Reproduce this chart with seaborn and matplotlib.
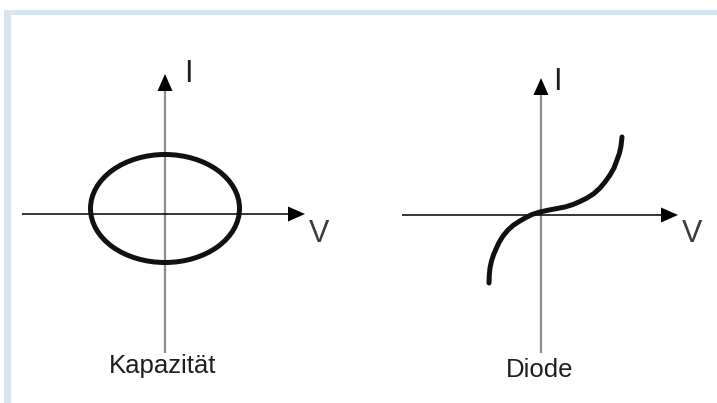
import matplotlib
matplotlib.use("Agg")
import matplotlib.pyplot as plt
from matplotlib.patches import Ellipse, Rectangle
import seaborn as sns
import pandas as pd

sns.set_theme(style="white")
plt.rcParams['font.family'] = ['Liberation Sans', 'DejaVu Sans']

# ---- data (units ~ pixels, origin at axis crossing) ----
panel_titles = ["Kapazität", "Diode"]
axis_labels = ["V", "I"]

# Capacitor: elliptical I-V loop (center, full width, full height)
cap_center = (0, 5.5)
cap_width = 149
cap_height = 108

# Diode: I-V curve points
diode_v = [-52, -51.7, -51, -49.5, -47.5, -45, -42, -38, -33, -28, -22, -16, -9, -1,
           8, 16, 24, 32, 39, 46, 53, 59, 64, 69, 73, 76, 78.5, 80, 81]
diode_i = [-68, -60, -53, -46, -40, -34, -27.5, -21, -15, -10.5, -6.5, -3, 0.5, 3,
           5, 6.5, 8, 10.5, 13.5, 17, 21.5, 27, 33, 40, 47, 55, 62, 69, 78]

W, H = 717, 403
fig = plt.figure(figsize=(W / 100, H / 100), dpi=100)
fig.patch.set_facecolor("white")

border = "#d6e5f2"
fig.add_artist(Rectangle((4 / W, (H - 15) / H), (W - 4) / W, 5 / H,
                         transform=fig.transFigure, color=border, lw=0))
fig.add_artist(Rectangle((4 / W, 0), 7 / W, (H - 10) / H,
                         transform=fig.transFigure, color=border, lw=0))


def make_axes(px0, px1, ox, oy):
    ax = fig.add_axes([px0 / W, 0, (px1 - px0) / W, 1])
    ax.set_xlim(px0 - ox, px1 - ox)
    ax.set_ylim(oy - H, oy)
    ax.set_axis_off()
    ax.patch.set_alpha(0)
    return ax


def draw_axes(ax, hx0, htip, vtip, vbot):
    gray = "#8c8c8c"
    ax.plot([hx0, htip - 15], [0, 0], color="black", lw=1.1, solid_capstyle="butt")
    ax.arrow(htip - 17, 0, 17, 0, width=0, head_width=15, head_length=17,
             length_includes_head=True, color="black", lw=0)
    ax.plot([0, 0], [vbot, vtip - 15], color=gray, lw=1.6, solid_capstyle="butt", zorder=1)
    ax.arrow(0, vtip - 17, 0, 17, width=0, head_width=15, head_length=17,
             length_includes_head=True, color="black", lw=0)


txtc = "#1e1e1e"

# Left panel: Kapazität
axL = make_axes(0, 358, 165, 214)
draw_axes(axL, -143, 140, 140, -139)
axL.add_patch(Ellipse(cap_center, cap_width, cap_height, fill=False,
                      ec="#111111", lw=3.6, zorder=3))
axL.text(23, 132, axis_labels[1], fontsize=22, color=txtc, ha="center", va="baseline")
axL.text(154, -28, axis_labels[0], fontsize=22, color="#3c3c3c", ha="center", va="baseline")
axL.text(-2.5, -159, panel_titles[0], fontsize=18.5, color=txtc, ha="center", va="baseline")

# Right panel: Diode
axR = make_axes(358, W, 541, 215)
draw_axes(axR, -139, 137, 137, -138)
df = pd.DataFrame({"V": diode_v, "I": diode_i})
sns.lineplot(data=df, x="V", y="I", sort=False, ax=axR, color="#111111",
             lw=3.6, zorder=3, legend=False, solid_joinstyle="round")
axR.set_axis_off()
axR.set_xlim(358 - 541, W - 541)
axR.set_ylim(215 - H, 215)
axR.text(16, 125, axis_labels[1], fontsize=22, color=txtc, ha="center", va="baseline")
axR.text(151.5, -27, axis_labels[0], fontsize=22, color="#3c3c3c", ha="center", va="baseline")
axR.text(-1, -162, panel_titles[1], fontsize=18.5, color=txtc, ha="center", va="baseline")

fig.savefig("out.png", dpi=100, facecolor="white")
